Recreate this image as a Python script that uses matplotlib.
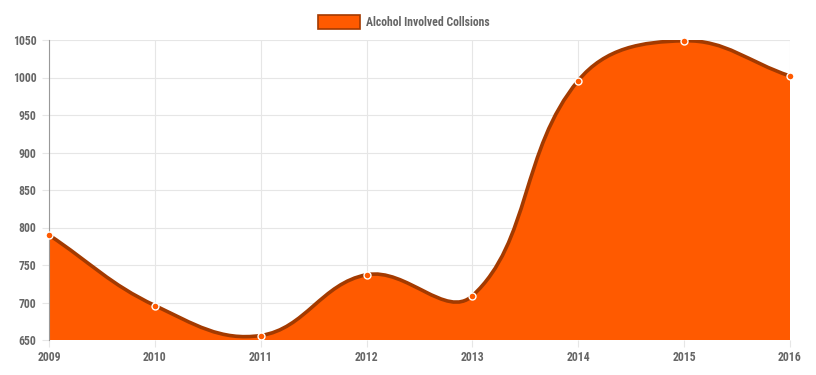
import matplotlib
matplotlib.use("Agg")
import matplotlib.pyplot as plt
from matplotlib.path import Path
from matplotlib.patches import PathPatch, Rectangle
from matplotlib import font_manager as fm
import numpy as np

years = [2009, 2010, 2011, 2012, 2013, 2014, 2015, 2016]
collisions = [790, 696, 656, 737, 709, 996, 1049, 1002]
series_label = "Alcohol Involved Collsions"
y_ticks = [650, 700, 750, 800, 850, 900, 950, 1000, 1050]

FILL = "#FF5A00"
LINE = "#A33A00"
TXT = "#666666"

names = {f.name for f in fm.fontManager.ttflist}
cands = ["Roboto Condensed", "Liberation Sans Narrow", "Open Sans Condensed", "DejaVu Sans"]
FAM = [c for c in cands if c in names] or ["DejaVu Sans"]
FP = dict(family=FAM, fontweight="bold", fontstretch="condensed")

fig = plt.figure(figsize=(8.16, 3.75), dpi=100)
ax = fig.add_axes([49/816, 1-340/375, (790-49)/816, 300/375])
ax.set_xlim(years[0], years[-1])
ax.set_ylim(650, 1050)

# Chart.js-like spline (tension 0.4) computed in pixel space
fig.canvas.draw()
pts = ax.transData.transform(np.column_stack([years, collisions]))
t = 0.4
n = len(pts)
cprev = np.zeros_like(pts)
cnext = np.zeros_like(pts)
for i in range(n):
    p0 = pts[max(i-1, 0)]
    p1 = pts[i]
    p2 = pts[min(i+1, n-1)]
    d01 = np.hypot(*(p1-p0))
    d12 = np.hypot(*(p2-p1))
    s = d01 + d12
    fa = t*d01/s if s else 0
    fb = t*d12/s if s else 0
    cprev[i] = p1 - fa*(p2-p0)
    cnext[i] = p1 + fb*(p2-p0)
inv = ax.transData.inverted()
cprev_d = inv.transform(cprev)
cnext_d = inv.transform(cnext)
pts_d = np.column_stack([years, collisions]).astype(float)

verts = [tuple(pts_d[0])]
codes = [Path.MOVETO]
for i in range(n-1):
    verts += [tuple(cnext_d[i]), tuple(cprev_d[i+1]), tuple(pts_d[i+1])]
    codes += [Path.CURVE4]*3
line_path = Path(verts, codes)
fill_verts = verts + [(years[-1], 650), (years[0], 650), verts[0]]
fill_codes = codes + [Path.LINETO, Path.LINETO, Path.CLOSEPOLY]
ax.add_patch(PathPatch(Path(fill_verts, fill_codes), facecolor=FILL, edgecolor="none", zorder=2))
ax.add_patch(PathPatch(line_path, facecolor="none", edgecolor=LINE, lw=2.6, zorder=3, capstyle="round"))
ax.plot(years, collisions, "o", ms=5, mfc=FILL, mec="white", mew=1.0, zorder=4, clip_on=False)

ax.set_xticks(years)
ax.set_xticklabels([str(y) for y in years])
ax.set_yticks(y_ticks)
ax.grid(True, color="#e6e6e6", lw=0.8, zorder=0)
ax.set_axisbelow(True)
for sp in ["top", "right", "bottom"]:
    ax.spines[sp].set_visible(False)
ax.spines["left"].set_color("#999999")
ax.spines["left"].set_linewidth(0.8)
ax.tick_params(axis="both", colors="#e6e6e6", length=5, width=0.8, labelcolor=TXT, labelsize=8.5)
for lab in ax.get_xticklabels() + ax.get_yticklabels():
    lab.set_family(FAM)
    lab.set_fontweight("bold")
    lab.set_fontstretch("condensed")
ax.tick_params(axis="x", pad=3)
ax.tick_params(axis="y", pad=4)

# legend
fig.patches.append(Rectangle((318/816, 1-29/375), 42/816, 14/375, transform=fig.transFigure,
                             facecolor=FILL, edgecolor=LINE, lw=1.2))
fig.text(366/816, 1-22/375, series_label, ha="left", va="center", color=TXT,
         fontsize=8.5, **FP)

fig.savefig("out.png", dpi=100)
